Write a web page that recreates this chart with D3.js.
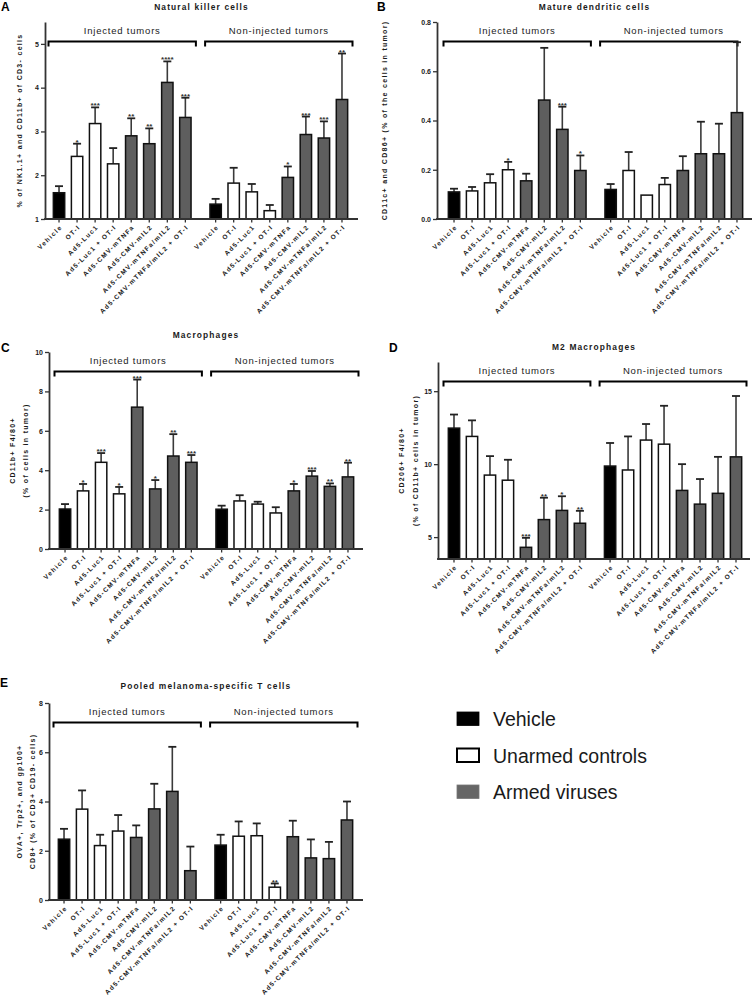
<!DOCTYPE html>
<html><head><meta charset="utf-8">
<script src="https://cdn.jsdelivr.net/npm/d3@7/dist/d3.min.js"></script>
<style>
body{margin:0;background:#fff;}
svg{display:block;font-family:"Liberation Sans",Arial,sans-serif;}
</style></head><body>
<svg id="fig" width="754" height="998"></svg>
<script>
// ---------- categories ----------
const treatments = ["Vehicle","OT-I","Ad5-Luc1","Ad5-Luc1 + OT-I","Ad5-CMV-mTNFa","Ad5-CMV-mIL2","Ad5-CMV-mTNFa/mIL2","Ad5-CMV-mTNFa/mIL2 + OT-I"];
const treatmentType = ["vehicle","unarmed","unarmed","unarmed","armed","armed","armed","armed"];
const groups = ["Injected tumors","Non-injected tumors"];
const legendLabels = ["Vehicle","Unarmed controls","Armed viruses"];

// ---------- A: Natural killer cells ----------
const nkInjMean = [1.6, 2.43, 3.18, 2.26, 2.9, 2.72, 4.12, 3.32];
const nkInjSem  = [0.15, 0.29, 0.37, 0.36, 0.4, 0.35, 0.48, 0.45];
const nkInjSig  = ["", "*", "***", "", "**", "**", "****", "***"];
const nkNonMean = [1.34, 1.82, 1.62, 1.19, 1.95, 2.93, 2.85, 3.73];
const nkNonSem  = [0.12, 0.35, 0.18, 0.13, 0.25, 0.41, 0.38, 1.05];
const nkNonSig  = ["", "", "", "", "*", "***", "***", "**"];
const nkTicks = [1, 2, 3, 4, 5];

// ---------- B: Mature dendritic cells ----------
const dcInjMean = [0.11, 0.114, 0.147, 0.2, 0.155, 0.483, 0.364, 0.197];
const dcInjSem  = [0.013, 0.016, 0.035, 0.032, 0.029, 0.212, 0.092, 0.061];
const dcInjSig  = ["", "", "", "*", "", "", "***", "*"];
const dcNonMean = [0.12, 0.197, 0.097, 0.14, 0.197, 0.265, 0.265, 0.432];
const dcNonSem  = [0.022, 0.075, 0, 0.027, 0.058, 0.13, 0.122, 0.286];
const dcNonSig  = ["", "", "", "", "", "", "", ""];
const dcTicks = [0, 0.2, 0.4, 0.6, 0.8];

// ---------- C: Macrophages ----------
const maInjMean = [2.03, 2.95, 4.4, 2.8, 7.2, 3.05, 4.72, 4.4];
const maInjSem  = [0.25, 0.35, 0.47, 0.35, 1.4, 0.45, 1.11, 0.37];
const maInjSig  = ["", "*", "***", "*", "***", "*", "**", "***"];
const maNonMean = [2.02, 2.44, 2.28, 1.83, 2.95, 3.7, 3.18, 3.66];
const maNonSem  = [0.18, 0.29, 0.12, 0.29, 0.35, 0.26, 0.15, 0.72];
const maNonSig  = ["", "", "", "", "*", "***", "**", "**"];
const maTicks = [0, 2, 4, 6, 8, 10];

// ---------- D: M2 Macrophages ----------
const m2InjMean = [12.47, 11.9, 9.25, 8.9, 4.3, 6.2, 6.83, 5.95];
const m2InjSem  = [0.93, 1.1, 1.3, 1.4, 0.65, 1.5, 0.97, 0.85];
const m2InjSig  = ["", "", "", "", "***", "**", "*", "**"];
const m2NonMean = [9.87, 9.6, 11.65, 11.37, 8.2, 7.26, 8.0, 10.5];
const m2NonSem  = [1.58, 2.3, 1.1, 2.63, 1.8, 1.72, 2.5, 4.17];
const m2NonSig  = ["", "", "", "", "", "", "", ""];
const m2Ticks = [5, 10, 15];

// ---------- E: Pooled melanoma-specific T cells ----------
const tcInjMean = [2.47, 3.69, 2.21, 2.8, 2.54, 3.7, 4.41, 1.19];
const tcInjSem  = [0.42, 0.76, 0.44, 0.65, 0.49, 1.02, 1.81, 0.98];
const tcInjSig  = ["", "", "", "", "", "", "", ""];
const tcNonMean = [2.23, 2.59, 2.61, 0.52, 2.57, 1.71, 1.68, 3.25];
const tcNonSem  = [0.42, 0.6, 0.5, 0.15, 0.65, 0.75, 0.68, 0.75];
const tcNonSig  = ["", "", "", "**", "", "", "", ""];
const tcTicks = [0, 2, 4, 6, 8];

// ---------- styling ----------
const fill = d3.scaleOrdinal().domain(["vehicle","unarmed","armed"]).range(["#000000","#ffffff","#5e5e5e"]);
const INK = "#1a1a1a";

const panels = [
  {letter:"A", title:"Natural killer cells", ylab:["% of NK1.1+ and CD11b+ of CD3- cells"], ylabX:[20],
   domain:[1,5.5], ticks:nkTicks, fmt:d3.format("d"), axisX:45, top:22, bottom:219, bands:[50,351], axisEnd:358,
   titleY:10, letterXY:[1,11], trimRight:0,
   series:[[nkInjMean,nkInjSem,nkInjSig],[nkNonMean,nkNonSem,nkNonSig]]},
  {letter:"B", title:"Mature dendritic cells", ylab:["CD11c+ and CD86+ (% of the cells in tumor)"], ylabX:[385],
   domain:[0,0.8], ticks:dcTicks, fmt:d3.format(".1f"), axisX:437, top:22, bottom:219, bands:[445,746], axisEnd:752,
   titleY:10, letterXY:[377,11], trimRight:10,
   series:[[dcInjMean,dcInjSem,dcInjSig],[dcNonMean,dcNonSem,dcNonSig]]},
  {letter:"C", title:"Macrophages", ylab:["CD11b+ F4/80+","(% of cells in tumor)"], ylabX:[13,26],
   domain:[0,10], ticks:maTicks, fmt:d3.format("d"), axisX:49, top:352, bottom:549, bands:[56,357], axisEnd:363,
   titleY:338, letterXY:[1,352], trimRight:0,
   series:[[maInjMean,maInjSem,maInjSig],[maNonMean,maNonSem,maNonSig]]},
  {letter:"D", title:"M2 Macrophages", ylab:["CD206+ F4/80+","(% of CD11b+ cells in tumor)"], ylabX:[402,416],
   domain:[3.5,17], ticks:m2Ticks, fmt:d3.format("d"), axisX:438, top:362, bottom:559, bands:[445,745], axisEnd:750,
   titleY:350, letterXY:[389,352], trimRight:0,
   series:[[m2InjMean,m2InjSem,m2InjSig],[m2NonMean,m2NonSem,m2NonSig]]},
  {letter:"E", title:"Pooled melanoma-specific T cells", ylab:["OVA+, Trp2+, and gp100+","CD8+ (% of CD3+ CD19- cells)"], ylabX:[20,33],
   domain:[0,8], ticks:tcTicks, fmt:d3.format("d"), axisX:49, top:703, bottom:900, bands:[55,356], axisEnd:363,
   titleY:689, letterXY:[0,687], trimRight:0,
   series:[[tcInjMean,tcInjSem,tcInjSig],[tcNonMean,tcNonSem,tcNonSig]]}
];

const svg = d3.select("#fig");

panels.forEach(p => {
  const g = svg.append("g");
  const y = d3.scaleLinear().domain(p.domain).range([p.bottom, p.top]);
  const outer = d3.scaleBand().domain(groups).range(p.bands).paddingInner(0.078);
  const inner = d3.scaleBand().domain(treatments).range([0, outer.bandwidth()]).paddingInner(0.37).paddingOuter(0.185);
  const bw = inner.bandwidth();
  const cx = (gi, t) => outer(groups[gi]) + inner(t) + bw / 2;

  // panel letter and title
  g.append("text").attr("x", p.letterXY[0]).attr("y", p.letterXY[1])
    .attr("font-size", 12).attr("font-weight", "bold").attr("fill", "#000").text(p.letter);
  g.append("text").attr("x", (p.axisX + p.axisEnd) / 2).attr("y", p.titleY)
    .attr("text-anchor", "middle").attr("font-size", 8.4).attr("font-weight", "bold")
    .attr("letter-spacing", "1.15px").attr("fill", INK).text(p.title);

  // y axis title
  const yMid = (p.top + p.bottom) / 2;
  p.ylab.forEach((line, k) => {
    g.append("text").attr("transform", `translate(${p.ylabX[k]},${yMid}) rotate(-90)`)
      .attr("text-anchor", "middle").attr("dy", "0.35em").attr("font-size", 7).attr("font-weight", "bold")
      .attr("letter-spacing", "1.3px").attr("fill", INK).text(line);
  });

  // brackets
  groups.forEach((grp, gi) => {
    const x0 = outer(grp) - 1.5;
    const x1 = outer(grp) + outer.bandwidth() + 1.5 - (gi === 1 ? p.trimRight : 0);
    const by = p.top + 19.5;
    g.append("path").attr("d", `M${x0},${by + 5}V${by}H${x1}V${by + 5}`)
      .attr("fill", "none").attr("stroke", "#000").attr("stroke-width", 2);
    g.append("text").attr("x", (outer(grp) + outer(grp) + outer.bandwidth()) / 2).attr("y", p.top + 8.5)
      .attr("dy", "0.35em").attr("text-anchor", "middle").attr("font-size", 9.5)
      .attr("letter-spacing", "0.8px").attr("fill", "#222").text(grp);
  });

  // bars, error bars, significance stars
  p.series.forEach((s, gi) => {
    const [mean, sem, sig] = s;
    treatments.forEach((t, i) => {
      const c = cx(gi, t);
      const top = y(mean[i]);
      const eTop = y(mean[i] + sem[i]);
      if (sem[i] > 0) {
        g.append("line").attr("x1", c).attr("x2", c).attr("y1", top).attr("y2", eTop)
          .attr("stroke", "#3a3a3a").attr("stroke-width", 1.6);
        g.append("line").attr("x1", c - 4).attr("x2", c + 4).attr("y1", eTop).attr("y2", eTop)
          .attr("stroke", "#222").attr("stroke-width", 1.8);
      }
      g.append("rect").attr("x", outer(groups[gi]) + inner(t)).attr("y", top)
        .attr("width", bw).attr("height", y(p.domain[0]) - top)
        .attr("fill", fill(treatmentType[i])).attr("stroke", "#111").attr("stroke-width", 1.5);
      if (sig[i]) {
        g.append("text").attr("x", c).attr("y", eTop + 1).attr("text-anchor", "middle")
          .attr("font-size", 8).attr("font-weight", "bold").attr("fill", "#333").text(sig[i]);
      }
      // x tick + label
      g.append("line").attr("x1", c).attr("x2", c).attr("y1", p.bottom).attr("y2", p.bottom + 3.5)
        .attr("stroke", "#333").attr("stroke-width", 1.3);
      g.append("text").attr("transform", `translate(${c + 2},${p.bottom + 7}) rotate(-45)`)
        .attr("text-anchor", "end").attr("dy", "0.35em").attr("font-size", 6.5).attr("font-weight", "bold")
        .attr("letter-spacing", "1.3px").attr("fill", INK).text(t);
    });
  });

  // y axis
  const ax = g.append("g").attr("transform", `translate(${p.axisX},0)`)
    .call(d3.axisLeft(y).tickValues(p.ticks).tickFormat(p.fmt).tickSize(4).tickSizeOuter(0).tickPadding(2));
  ax.select(".domain").attr("stroke", "#333").attr("stroke-width", 1.8);
  ax.selectAll(".tick line").attr("stroke", "#333").attr("stroke-width", 1.3);
  ax.selectAll(".tick text").attr("font-size", 7).attr("font-weight", "bold").attr("fill", INK)
    .attr("font-family", "Liberation Sans, Arial, sans-serif");

  // x axis baseline
  g.append("line").attr("x1", p.axisX - 0.9).attr("x2", p.axisEnd).attr("y1", p.bottom).attr("y2", p.bottom)
    .attr("stroke", "#333").attr("stroke-width", 1.8);
});

// legend
const legendY = d3.scalePoint().domain(legendLabels).range([719, 792]);
const legendType = ["vehicle","unarmed","armed"];
const lg = svg.append("g");
legendLabels.forEach((lab, i) => {
  const cy = legendY(lab);
  lg.append("rect").attr("x", 457).attr("y", cy - 7).attr("width", 22).attr("height", 13.5)
    .attr("fill", legendType[i] === "armed" ? "#666666" : fill(legendType[i]))
    .attr("stroke", legendType[i] === "armed" ? "#777" : "#000").attr("stroke-width", legendType[i] === "unarmed" ? 2 : 0.8);
  lg.append("text").attr("x", 493).attr("y", cy).attr("dy", "0.36em").attr("font-size", 19.5)
    .attr("fill", "#1a1a1a").text(lab);
});
</script>
</body></html>
